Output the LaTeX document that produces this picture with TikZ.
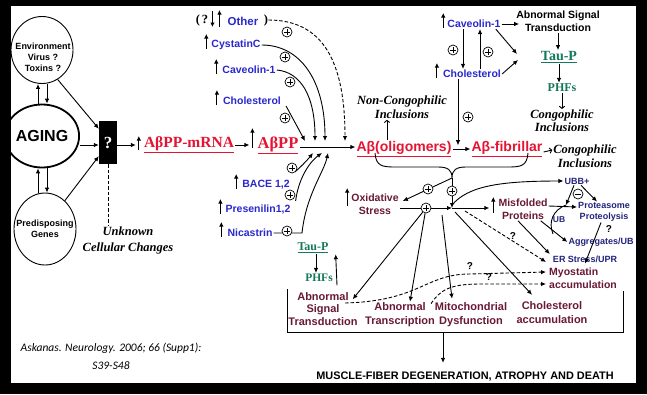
\documentclass[tikz,border=0pt]{standalone}
\usepackage{fontspec}
\setmainfont{Liberation Serif}
\setsansfont{Liberation Sans}
\newfontfamily\citefont{Carlito}
\usetikzlibrary{arrows.meta,calc,shapes.geometric}

\definecolor{lblue}{RGB}{40,40,205}
\definecolor{navy}{RGB}{35,35,125}
\definecolor{abred}{RGB}{228,20,50}
\definecolor{maroon}{RGB}{105,25,55}
\definecolor{taugreen}{RGB}{20,120,90}

% small "increase" arrow in front of a label
\newcommand{\upmark}[2][5]{\draw[upar] ($(#2.west)+(-#1,4)$) -- ($(#2.west)+(-#1,-11)$);}

\tikzset{
  ar/.style={-{Latex[length=5pt,width=4.5pt]},line width=0.9pt},
  upar/.style={-{Latex[length=4.5pt,width=4.5pt]},line width=1.1pt},
  opar/.style={-{To[length=3pt,width=6pt]},line width=0.9pt},
  dsh/.style={dash pattern=on 3.5pt off 2pt},
  cause/.style={ellipse,draw,line width=0.9pt,inner sep=0pt},
  causetxt/.style={font=\sffamily\bfseries\fontsize{9}{11}\selectfont,align=center},
  bluelbl/.style={font=\sffamily\bfseries\fontsize{10.5}{12}\selectfont,text=lblue,inner sep=1pt},
  navylbl/.style={font=\sffamily\bfseries\fontsize{9}{10.5}\selectfont,text=navy,align=center,inner sep=1pt},
  maroonlbl/.style={font=\sffamily\bfseries\fontsize{10.5}{13.5}\selectfont,text=maroon,align=center,inner sep=1pt},
  rowlbl/.style={maroonlbl,font=\sffamily\bfseries\fontsize{11}{14}\selectfont},
  redlbl/.style={font=\sffamily\bfseries\fontsize{14}{14}\selectfont,text=abred,inner sep=1pt},
  greenlbl/.style={font=\rmfamily\bfseries\fontsize{12}{12}\selectfont,text=taugreen,inner sep=1pt},
  notelbl/.style={font=\rmfamily\bfseries\itshape\fontsize{12.5}{14.5}\selectfont,align=center,inner sep=1pt},
  qmark/.style={font=\sffamily\bfseries\fontsize{10}{10}\selectfont,inner sep=0pt},
  plusc/.style={circle,draw,fill=white,line width=0.7pt,minimum size=10pt,inner sep=0pt,
    path picture={\draw[line width=0.7pt]
      ([xshift=-3pt]path picture bounding box.center) -- ([xshift=3pt]path picture bounding box.center)
      ([yshift=-3pt]path picture bounding box.center) -- ([yshift=3pt]path picture bounding box.center);}},
  minusc/.style={circle,draw,fill=white,line width=0.7pt,minimum size=10pt,inner sep=0pt,
    path picture={\draw[line width=0.9pt]
      ([xshift=-3pt]path picture bounding box.center) -- ([xshift=3pt]path picture bounding box.center);}}
}

\begin{document}
\begin{tikzpicture}[x=1pt,y=-1pt]
\fill[black] (0,0) rectangle (647,394);
\fill[white] (11,6) rectangle (636,383);

% causes
\node[cause,minimum width=62pt,minimum height=67pt] (env) at (42,50) {};
\node[causetxt] (envtxt) at (43,57) {Environment\\Virus ?\\Toxins ?};
\node[cause,line width=1.8pt,minimum width=62pt,minimum height=63pt,
  font=\sffamily\bfseries\fontsize{16}{16}\selectfont] (aging) at (42,136) {AGING};
\node[cause,minimum width=62pt,minimum height=72pt] (genes) at (45,229) {};
\node[causetxt] (genestxt) at (45,229) {Predisposing\\Genes};
\node[fill=black,minimum width=18pt,minimum height=43pt,inner sep=0pt,text=white,
  font=\rmfamily\bfseries\fontsize{17}{17}\selectfont] (qbox) at (108,142.5) {?};
\node[notelbl,font=\rmfamily\bfseries\itshape\fontsize{12.5}{16}\selectfont] (unk) at (128,240) {Unknown\\Cellular Changes};

% main chain
\node[text=abred,font=\rmfamily\bfseries\fontsize{15.5}{15.5}\selectfont,inner sep=1pt] (mrna) at (189,145) {\underline{AβPP-mRNA}};
\node[text=abred,font=\rmfamily\bfseries\fontsize{16.5}{16.5}\selectfont,inner sep=1pt] (app) at (278,145) {\underline{AβPP}};
\node[redlbl] (olig) at (404,149) {\underline{Aβ(oligomers)}};
\node[redlbl] (fib) at (507,149) {\underline{Aβ-fibrillar}};
\coordinate (mainA) at (300,147);

% modifiers of APP
\node[font=\rmfamily\bfseries\fontsize{12.5}{12}\selectfont,inner sep=0pt] (othl) at (202,20) {(\,?};
\node[bluelbl,font=\sffamily\bfseries\fontsize{11.5}{12}\selectfont] (oth) at (243,21) {Other};
\node[font=\rmfamily\bfseries\fontsize{12.5}{12}\selectfont,inner sep=0pt] (othr) at (266,20) {)};
\node[bluelbl] (cyst) at (236,45) {CystatinC};
\node[bluelbl] (cav1) at (249,70) {Caveolin-1};
\node[bluelbl] (chol1) at (252,101) {Cholesterol};
\node[bluelbl] (bace) at (266,185) {BACE 1,2};
\node[bluelbl] (pres) at (258,210) {Presenilin1,2};
\node[bluelbl] (nica) at (250,233) {Nicastrin};
\coordinate (inOth) at (345,141);
\coordinate (inCys) at (325,141);
\coordinate (inCav) at (315,141);
\coordinate (inCho) at (305,141);
\coordinate (inB) at (313,153);
\coordinate (inP) at (322,153);
\coordinate (inN) at (328,153);

% top right
\node[bluelbl] (cav2) at (474,24) {Caveolin-1};
\node[bluelbl] (chol2) at (472,74) {Cholesterol};
\node[font=\sffamily\bfseries\fontsize{10.5}{13}\selectfont,align=center,inner sep=1pt] (abn1) at (558,21) {Abnormal Signal\\Transduction};
\node[greenlbl,font=\rmfamily\bfseries\fontsize{14}{14}\selectfont] (taup1) at (559,57) {\underline{Tau-P}};
\node[greenlbl] (phf1) at (562,88) {PHFs};
\node[notelbl,font=\rmfamily\bfseries\itshape\fontsize{12.5}{13}\selectfont] (cong1) at (562,121) {Congophilic\\Inclusions};
\node[notelbl] (ncong) at (402,107) {Non-Congophilic\\Inclusions};
\node[notelbl] (cong2) at (585,156) {Congophilic\\Inclusions};

% middle
\node[maroonlbl,font=\sffamily\bfseries\fontsize{10.5}{13}\selectfont] (oxid) at (375,204) {Oxidative\\Stress};
\node[maroonlbl] (misf) at (523,209) {Misfolded\\Proteins};
\node[navylbl] (ubb) at (577,181) {UBB+};
\node[navylbl] (prot) at (604,212) {Proteasome\\Proteolysis};
\node[navylbl,font=\sffamily\bfseries\fontsize{8.5}{9}\selectfont] (ub) at (559,220) {UB};
\node[navylbl] (agg) at (601,242) {Aggregates/UB};
\node[navylbl] (er) at (585,259) {ER Stress/UPR};
\node[maroonlbl,font=\sffamily\bfseries\fontsize{10.5}{13}\selectfont,align=left,anchor=west] (myo) at (548,278) {Myostatin\\accumulation};

% bottom row
\node[rowlbl,font=\sffamily\bfseries\fontsize{11}{12.5}\selectfont] (ast) at (323,309) {Abnormal\\Signal\\Transduction};
\node[rowlbl] (atr) at (400,315) {Abnormal\\Transcription};
\node[rowlbl] (mit) at (471,315) {Mitochondrial\\Dysfunction};
\node[rowlbl] (cha) at (552,313) {Cholesterol\\accumulation};
\node[greenlbl] (taup2) at (313,248) {\underline{Tau-P}};
\node[greenlbl,font=\rmfamily\bfseries\fontsize{11.5}{12}\selectfont] (phf2) at (319,278) {PHFs};
\node[font=\sffamily\bfseries\fontsize{10.9}{10.9}\selectfont] (death) at (465,377) {MUSCLE-FIBER DEGENERATION, ATROPHY AND DEATH};
\node[font=\citefont\itshape\fontsize{11.5}{18}\selectfont,align=center] (cite) at (111,356) {Askanas. Neurology. 2006; 66 (Supp1):\\S39-S48};

% causes into the box
\draw[ar] ($(aging.north)+(-4,0)$) -- ($(aging.north |- env.south)+(-4,0)$);
\draw[ar] ($(aging.north |- env.south)+(5,0)$) -- ($(aging.north)+(5,0)$);
\draw[ar] ($(aging.south |- genes.north)+(-4,0)$) -- ($(aging.south)+(-4,0)$);
\draw[ar] ($(aging.south)+(5,0)$) -- ($(aging.south |- genes.north)+(5,0)$);
\draw[ar] (env.-62) -- ($(qbox.north west)+(0,8)$);
\draw[ar] (aging.east |- mrna.west) -- (qbox.west |- mrna.west);
\draw[ar] (genes.55) -- ($(qbox.south west)+(0,-8)$);
\draw[dsh,line width=0.8pt] (qbox.south) -- (qbox.south |- unk.north);

% main chain
\draw[ar] (qbox.east |- mrna.west) -- ($(mrna.west)+(-7,0)$);
\draw[upar] ($(mrna.west)+(-4,5)$) -- ($(mrna.west)+(-4,-9)$);
\draw[ar] (mrna.east) -- ($(app.west)+(-7,0)$);
\draw[upar] ($(app.west)+(-4,3)$) -- ($(app.west)+(-4,-17)$);
\draw[ar] (app.east |- mainA) -- (olig.west |- mainA);

% modifiers
\draw[upar] ($(oth.west)+(-14,-10)$) -- ($(oth.west)+(-14,6)$);
\draw[upar] ($(oth.west)+(-7,6)$) -- ($(oth.west)+(-7,-11)$);
\upmark[4]{cyst} \upmark{cav1} \upmark{chol1}
\upmark{bace} \upmark[4]{pres} \upmark{nica}
\upmark[3]{cav2} \upmark{chol2}
\draw[ar,dsh] (othr.east) .. controls (322,20) and (345,60) .. (inOth);
\draw[ar] (cyst.east) .. controls (300,45) and (325,80) .. (inCys);
\draw[ar] (cav1.east) .. controls (300,72) and (315,95) .. (inCav);
\draw[ar] ($(chol1.east)+(4,5)$) -- (inCho);
\draw[ar] ($(bace.east)+(4,-13)$) .. controls (303,165) and (309,158) .. (inB);
\draw[ar] ($(pres.east)+(4,-9)$) .. controls (299,175) and (312,160) .. (inP);
\draw[ar] (nica.east) -- (302,233) .. controls (306,195) and (324,172) .. (inN);

% caveolin / cholesterol / tau
\draw[ar] (cav2.east) -- ($(abn1.west |- cav2.east)+(4,0)$);
\draw[ar] (abn1.south) -- (abn1.south |- taup1.north);
\draw[ar] (taup1.south) -- (taup1.south |- phf1.north);
\draw[opar] (phf1.south) -- (phf1.south |- cong1.north);
\draw[ar] ($(cav2.south)+(-11,0)$) -- ($(cav2.south |- chol2.north)+(-11,0)$);
\draw[ar] ($(chol2.north)+(8,0)$) -- ($(chol2.north |- cav2.south)+(8,0)$);
\coordinate (cavj) at (518,57);
\draw[ar] ($(cav2.south east)+(-6,0)$) -- ($(cavj)+(-1,-3)$);
\draw[ar] (chol2.east) -- ($(cavj)+(0,3)$);
\draw[opar] ($(olig.north)+(-17,0)$) -- ($(olig.north |- ncong.south)+(-17,0)$);
\draw[ar] ($(chol2.south)+(-14,0)$) -- ($(chol2.south |- olig.north)+(-14,5)$);
\draw[ar] (olig.east) -- (fib.west);
\draw[opar] ($(fib.east)+(0,3)$) -- ($(cong2.west)+(0,-6)$);

% brace and the hub
\coordinate (bt) at (452,178);
\coordinate (hub) at (452,208);
\draw[line width=0.9pt] (375,153) .. controls (376,166) and (382,167) .. (395,167) -- (438,167) .. controls (448,167) and (452,170) .. (bt)
  (528,153) .. controls (527,166) and (521,167) .. (508,167) -- (466,167) .. controls (456,167) and (452,170) .. (bt);
\draw[ar] (bt) -- ($(oxid.east)+(3,-3)$);
\draw[ar] (bt) -- (hub);
\draw[ar] ($(oxid.east)+(0,4)$) -- (hub);
\draw[upar] ($(oxid.west)+(-3,2)$) -- ($(oxid.west)+(-3,-16)$);
\node[plusc] (p13) at (426,208) {};
\draw[ar] (p13) -- ($(ast.north east)+(-6,8)$);
\draw[ar] (p13) -- ($(atr.north)+(10,0)$);

\draw[ar] (hub) -- ($(misf.west |- hub)+(-8,0)$);
\draw[upar] ($(misf.west)+(-4,4)$) -- ($(misf.west)+(-4,-12)$);
\draw[ar] ($(hub)+(0,-3)$) .. controls (468,186) and (500,181) .. (ubb.west);
\draw[ar,dsh] ($(hub)+(13,3)$) -- ($(myo.west)+(-2,-16)$);
\draw[ar] ($(hub)+(3,4)$) -- ($(cha.north)+(-20,-6)$);
\draw[ar] ($(hub)+(-10,7)$) -- ($(mit.north)+(-19,-3)$);

% proteasome corner
\coordinate (ubtip) at (566,205);
\draw[ar] ($(ubb.south)+(-3,0)$) -- (ubtip);
\draw[ar] ($(ubb.south)+(4,0)$) -- ($(prot.north)+(-7,0)$);
\draw[ar] ($(misf.east)+(0,-3)$) -- ($(prot.west)+(0,-5)$);
\draw[line width=0.9pt] (553,234) .. controls (548,222) and (553,210) .. (ubtip);
\draw[ar] ($(misf.south east)+(-8,0)$) -- (agg.west);
\draw[ar] ($(misf.south)+(-5,0)$) -- ($(er.west)+(-2,-5)$);
\draw[ar] ($(prot.south)+(-3,0)$) -- (er.south);
\node[minusc] (m1) at (578,194) {};
\node[qmark] (q1) at (609,229) {?};
\node[qmark] (q2) at (513,236) {?};

% towards myostatin
\draw[ar,dsh] ($(ast.center)+(22,-6)$) .. controls (420,301) and (425,274) .. (470,274) -- ($(myo.west)+(-2,-6)$);
\draw[ar,dsh] ($(atr.north east)+(-5,2)$) .. controls (440,290) and (450,284) .. (480,284) -- ($(myo.west)+(-2,6)$);
\node[qmark] (q3) at (470,266) {?};
\node[qmark] (q4) at (489,277) {?};

% tau below
\draw[ar] ($(taup2.south)+(3,0)$) -- ($(taup2.south |- phf2.north)+(3,0)$);
\draw[ar] ($(ast.north)+(14,-6)$) -- ($(taup2.south east)+(6,0)$);

% bracket and outcome
\draw[line width=0.9pt] (287,289) |- (623,332) -- (623,291);
\coordinate (brm) at (443,332);
\draw[ar] (brm) -- ($(brm |- death.north)+(0,-6)$);

% plus signs
\node[plusc] (p1) at (287,32) {};
\node[plusc] (p2) at (285,57) {};
\node[plusc] (p3) at (290,82) {};
\node[plusc] (p4) at (285,118) {};
\node[plusc] (p5) at (292,168) {};
\node[plusc] (p6) at (290,195) {};
\node[plusc] (p7) at (287,231) {};
\node[plusc] (p8) at (453,50) {};
\node[plusc] (p9) at (488,52) {};
\node[plusc] (p10) at (468,117) {};
\node[plusc] (p11) at (428,189) {};
\node[plusc] (p12) at (452,191) {};
\end{tikzpicture}
\end{document}
